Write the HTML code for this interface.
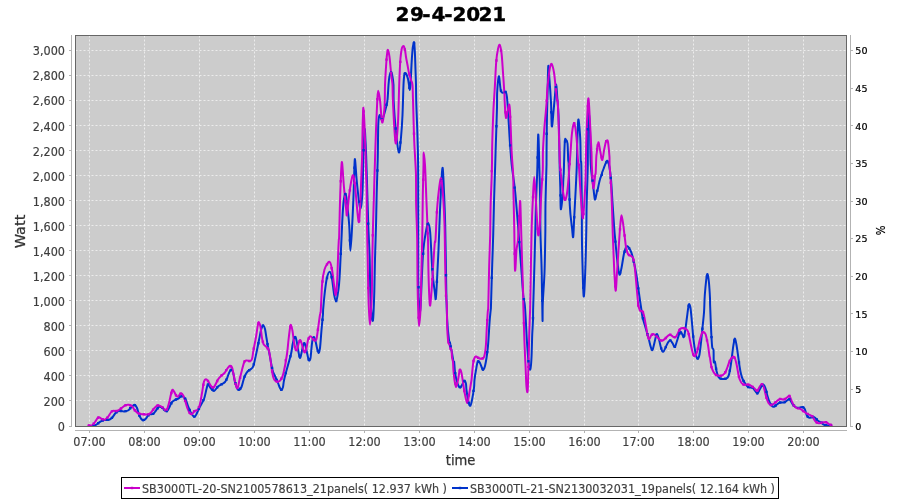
<!DOCTYPE html>
<html lang="en"><head><meta charset="utf-8"><title>29-4-2021</title>
<style>
html,body{margin:0;padding:0;background:#fff;overflow:hidden}
svg{display:block}
text{font-family:"DejaVu Sans","Liberation Sans",sans-serif}
.tl{font-family:"DejaVu Sans Condensed","DejaVu Sans","Liberation Sans",sans-serif;font-size:12.5px;fill:#3c3c3c;stroke:#3c3c3c;stroke-width:.15px}
.tr{font-family:"DejaVu Sans","Liberation Sans",sans-serif;font-size:9.3px;fill:#000;stroke:#000;stroke-width:.2px}
.pc{font-family:"DejaVu Sans Condensed","DejaVu Sans","Liberation Sans",sans-serif;font-size:12px;fill:#000;stroke:#000;stroke-width:.2px}
.al{font-family:"DejaVu Sans Condensed","DejaVu Sans","Liberation Sans",sans-serif;font-size:14px;fill:#333;stroke:#333;stroke-width:.25px}
.lg{font-family:"DejaVu Sans Condensed","DejaVu Sans","Liberation Sans",sans-serif;font-size:12.5px;fill:#404040;stroke:#404040;stroke-width:.15px}
.ti{font-weight:bold;font-size:20px;fill:#000;stroke:#000;stroke-width:.4px}
.g{stroke:#fff;stroke-opacity:.62;stroke-width:1;stroke-dasharray:2 2;fill:none}
.ax{stroke:#b3b3b3;stroke-width:1;fill:none;shape-rendering:crispEdges}
</style></head><body>
<svg width="900" height="500" viewBox="0 0 900 500">
<rect x="0" y="0" width="900" height="500" fill="#fff"/>
<text class="ti" x="395.4 409.9 422.2 431.5 444.2 452.4 466.3 478.4 492.2" y="21">29-4-2021</text>
<rect x="75" y="35" width="772" height="392" fill="#cccccc"/>
<line class="g" x1="89.5" y1="35.5" x2="89.5" y2="426"/>
<line class="g" x1="144.5" y1="35.5" x2="144.5" y2="426"/>
<line class="g" x1="199.5" y1="35.5" x2="199.5" y2="426"/>
<line class="g" x1="254.5" y1="35.5" x2="254.5" y2="426"/>
<line class="g" x1="309.5" y1="35.5" x2="309.5" y2="426"/>
<line class="g" x1="364.5" y1="35.5" x2="364.5" y2="426"/>
<line class="g" x1="419.5" y1="35.5" x2="419.5" y2="426"/>
<line class="g" x1="474.5" y1="35.5" x2="474.5" y2="426"/>
<line class="g" x1="529.5" y1="35.5" x2="529.5" y2="426"/>
<line class="g" x1="584.5" y1="35.5" x2="584.5" y2="426"/>
<line class="g" x1="638.5" y1="35.5" x2="638.5" y2="426"/>
<line class="g" x1="693.5" y1="35.5" x2="693.5" y2="426"/>
<line class="g" x1="748.5" y1="35.5" x2="748.5" y2="426"/>
<line class="g" x1="803.5" y1="35.5" x2="803.5" y2="426"/>
<line class="g" x1="75.5" y1="400.5" x2="846" y2="400.5"/>
<line class="g" x1="75.5" y1="375.5" x2="846" y2="375.5"/>
<line class="g" x1="75.5" y1="350.5" x2="846" y2="350.5"/>
<line class="g" x1="75.5" y1="325.5" x2="846" y2="325.5"/>
<line class="g" x1="75.5" y1="300.5" x2="846" y2="300.5"/>
<line class="g" x1="75.5" y1="275.5" x2="846" y2="275.5"/>
<line class="g" x1="75.5" y1="250.5" x2="846" y2="250.5"/>
<line class="g" x1="75.5" y1="225.5" x2="846" y2="225.5"/>
<line class="g" x1="75.5" y1="200.5" x2="846" y2="200.5"/>
<line class="g" x1="75.5" y1="175.5" x2="846" y2="175.5"/>
<line class="g" x1="75.5" y1="150.5" x2="846" y2="150.5"/>
<line class="g" x1="75.5" y1="125.5" x2="846" y2="125.5"/>
<line class="g" x1="75.5" y1="100.5" x2="846" y2="100.5"/>
<line class="g" x1="75.5" y1="75.5" x2="846" y2="75.5"/>
<line class="g" x1="75.5" y1="50.5" x2="846" y2="50.5"/>
<clipPath id="pc"><rect x="75" y="35" width="772" height="392"/></clipPath>
<g clip-path="url(#pc)" fill="none" stroke-width="2" stroke-linejoin="round" stroke-linecap="round">
<path stroke="#0033cc" d="M93.0,425.5C93.5,425.4 94.8,425.4 96.0,424.8C97.2,424.2 98.7,422.6 100.0,421.8C101.3,421.0 102.5,420.3 104.0,420.0C105.5,419.7 107.7,420.2 109.0,419.8C110.3,419.4 110.8,419.0 112.0,417.8C113.2,416.6 114.7,413.7 116.0,412.5C117.3,411.3 118.7,411.0 120.0,410.8C121.3,410.6 122.7,411.6 124.0,411.5C125.3,411.4 126.8,411.2 128.0,410.5C129.2,409.8 129.9,408.4 131.0,407.5C132.1,406.6 133.5,404.7 134.5,404.8C135.5,404.9 136.2,406.1 137.0,408.0C137.8,409.9 138.5,413.9 139.5,416.0C140.5,418.1 141.9,420.1 143.0,420.5C144.1,420.9 145.0,419.5 146.0,418.5C147.0,417.5 147.8,415.2 149.0,414.5C150.2,413.8 151.8,414.7 153.0,414.0C154.2,413.3 155.0,411.7 156.0,410.5C157.0,409.3 157.8,407.2 159.0,406.8C160.2,406.4 162.2,407.5 163.0,408.0C163.8,408.5 163.3,409.5 164.0,410.0C164.7,410.5 166.1,411.7 167.0,411.2C167.9,410.7 168.7,408.5 169.5,407.0C170.3,405.5 170.9,403.2 172.0,402.0C173.1,400.8 174.9,400.1 176.0,399.5C177.1,398.9 177.7,399.1 178.5,398.5C179.3,397.9 180.2,396.4 181.0,396.2C181.8,395.9 182.8,396.5 183.5,397.0C184.2,397.5 184.8,397.5 185.5,399.0C186.2,400.5 187.1,403.7 188.0,406.0C188.9,408.3 189.9,411.2 191.0,413.0C192.1,414.8 193.5,416.8 194.5,416.8C195.5,416.8 196.2,414.6 197.0,413.0C197.8,411.4 198.3,409.8 199.5,407.5C200.7,405.2 202.8,402.1 204.0,399.0C205.2,395.9 205.8,391.4 206.5,389.0C207.2,386.6 207.2,384.6 208.0,384.5C208.8,384.4 210.0,387.4 211.0,388.5C212.0,389.6 212.8,391.3 214.0,391.0C215.2,390.7 216.7,387.7 218.0,386.5C219.3,385.3 220.8,384.8 222.0,384.0C223.2,383.2 224.2,382.9 225.0,382.0C225.8,381.1 226.3,380.0 227.0,378.5C227.7,377.0 228.3,374.4 229.0,373.0C229.7,371.6 230.3,370.0 231.0,369.8C231.7,369.6 232.3,370.0 233.0,372.0C233.7,374.0 234.2,379.2 235.0,382.0C235.8,384.8 236.8,387.7 237.5,389.0C238.2,390.3 238.3,390.3 239.0,390.0C239.7,389.7 240.8,388.7 241.5,387.0C242.2,385.3 242.9,381.9 243.5,380.0C244.1,378.1 244.2,377.0 245.0,375.5C245.8,374.0 247.0,372.1 248.0,371.0C249.0,369.9 250.1,369.9 251.0,369.0C251.9,368.1 252.5,368.7 253.5,365.5C254.5,362.3 256.1,354.2 257.0,350.0C257.9,345.8 258.3,343.3 259.0,340.0C259.7,336.7 260.4,332.3 261.0,330.0C261.6,327.7 262.1,326.8 262.5,326.0C262.9,325.2 263.1,325.0 263.5,325.5C263.9,326.0 264.5,326.9 265.0,329.0C265.5,331.1 266.0,335.0 266.5,338.0C267.0,341.0 267.5,344.3 268.0,347.0C268.5,349.7 268.8,350.2 269.5,354.0C270.2,357.8 271.6,366.3 272.5,370.0C273.4,373.7 274.1,373.8 275.0,376.0C275.9,378.2 277.2,381.0 278.0,383.0C278.8,385.0 279.4,386.8 280.0,388.0C280.6,389.2 281.0,390.2 281.5,390.0C282.0,389.8 282.5,389.0 283.0,387.0C283.5,385.0 283.2,383.5 284.5,378.0C285.8,372.5 289.7,359.5 291.0,354.0C292.3,348.5 292.0,347.6 292.5,345.0C293.0,342.4 293.5,339.8 294.0,338.5C294.5,337.2 295.0,336.2 295.5,337.0C296.0,337.8 296.5,340.5 297.0,343.0C297.5,345.5 298.0,349.5 298.5,352.0C299.0,354.5 299.5,357.8 300.0,358.0C300.5,358.2 301.0,355.0 301.5,353.0C302.0,351.0 302.5,347.7 303.0,346.0C303.5,344.3 304.0,342.7 304.5,343.0C305.0,343.3 305.5,346.0 306.0,348.0C306.5,350.0 307.0,352.9 307.5,355.0C308.0,357.1 308.5,360.0 309.0,360.5C309.5,361.0 310.1,360.1 310.5,358.0C310.9,355.9 311.2,351.0 311.5,348.0C311.8,345.0 312.1,341.8 312.5,340.0C312.9,338.2 313.5,336.8 314.0,337.0C314.5,337.2 315.0,339.2 315.5,341.0C316.0,342.8 316.5,346.0 317.0,348.0C317.5,350.0 318.0,353.0 318.5,353.0C319.0,353.0 319.5,351.8 320.0,348.0C320.5,344.2 321.0,335.7 321.5,330.0C322.0,324.3 322.7,317.3 323.0,314.0C323.1,310.7 323.0,313.2 323.1,310.0C323.4,306.8 323.9,300.2 324.5,295.0C325.1,289.8 325.9,282.4 326.8,278.5C327.7,274.6 328.9,271.8 329.8,271.8C330.7,271.8 331.3,274.6 332.0,278.5C332.7,282.4 333.5,291.2 334.2,295.0C334.9,298.8 335.6,301.0 336.2,301.0C336.8,301.0 337.1,297.7 337.6,295.0C338.1,292.3 338.6,289.2 339.0,285.0C339.4,280.8 339.8,274.3 340.0,270.0C340.2,265.7 340.3,263.2 340.5,259.0C340.7,254.8 341.0,249.5 341.2,245.0C341.4,240.5 341.6,237.0 341.8,232.0C342.0,227.0 342.3,220.2 342.6,215.0C342.9,209.8 343.2,204.6 343.7,201.0C344.2,197.4 344.9,193.2 345.5,193.5C346.1,193.8 346.4,197.2 347.0,202.5C347.6,207.8 348.6,216.9 349.2,225.0C349.8,233.1 349.9,250.8 350.4,250.8C350.9,250.8 351.6,235.6 352.2,225.0C352.8,214.4 353.4,198.5 353.8,187.5C354.2,176.5 354.4,160.8 354.8,159.2C355.2,157.6 356.0,172.4 356.5,178.0C357.0,183.6 357.5,188.5 358.0,193.0C358.5,197.5 359.1,202.4 359.5,205.0C359.9,207.6 360.1,208.7 360.4,208.5C360.7,208.3 361.2,206.6 361.5,204.0C361.8,201.4 362.1,197.8 362.4,193.0C362.6,188.2 362.9,180.5 363.0,175.0C363.1,169.5 363.2,164.8 363.3,160.0C363.4,155.2 363.6,151.2 363.8,146.0C364.0,140.8 364.4,129.5 364.7,129.0C365.0,128.5 365.3,137.8 365.6,143.0C365.9,148.2 366.0,151.7 366.3,160.0C366.6,168.3 367.0,182.0 367.3,193.0C367.6,204.0 367.9,215.0 368.3,226.0C368.7,237.0 369.4,248.0 369.7,259.0C370.0,270.0 370.0,283.2 370.3,292.0C370.6,300.8 370.9,307.3 371.4,312.0C371.8,316.7 372.5,323.3 373.0,320.0C373.5,316.7 374.0,302.2 374.3,292.0C374.6,281.8 374.7,270.0 375.0,259.0C375.3,248.0 375.7,237.0 376.0,226.0C376.3,215.0 376.4,204.0 376.7,193.0C377.0,182.0 377.4,171.5 377.7,160.0C378.0,148.5 378.0,131.5 378.3,124.0C378.6,116.5 379.0,115.8 379.6,115.0C380.2,114.2 381.1,120.8 382.2,119.5C383.3,118.2 385.1,110.8 386.0,107.5C386.9,104.2 387.1,103.8 387.5,100.0C387.9,96.2 388.2,89.0 388.5,85.0C388.8,81.0 389.1,78.1 389.5,76.0C389.9,73.9 390.4,72.4 390.8,72.2C391.2,72.0 391.8,72.9 392.2,75.0C392.6,77.1 393.3,80.8 393.5,85.0C393.6,89.2 393.5,92.5 393.6,100.0C394.0,107.5 394.9,121.2 395.8,130.0C396.7,138.8 397.9,151.2 398.8,152.5C399.7,153.8 400.4,143.8 401.0,137.5C401.6,131.2 402.1,123.8 402.5,115.0C402.9,106.2 403.2,91.5 403.5,85.0C403.8,78.5 403.9,78.0 404.2,76.0C404.4,74.0 404.6,73.2 405.0,73.0C405.4,72.8 406.0,73.5 406.5,74.5C407.0,75.5 407.6,77.2 408.0,79.0C408.4,80.8 408.7,83.2 409.0,85.0C409.3,86.8 409.6,90.0 409.8,90.0C410.1,90.0 410.2,89.2 410.5,85.0C410.8,80.8 411.2,70.8 411.5,65.0C411.8,59.2 412.2,53.5 412.5,50.0C412.8,46.5 413.2,45.2 413.5,44.0C413.8,42.8 413.9,41.0 414.2,42.8C414.4,44.6 414.8,50.5 415.0,55.0C415.2,59.5 415.3,65.0 415.5,70.0C415.7,75.0 415.9,80.0 416.0,85.0C416.1,90.0 416.0,91.2 416.2,100.0C416.4,108.8 417.2,125.0 417.5,137.5C417.8,150.0 418.1,151.5 418.2,175.0C418.3,198.5 418.2,256.0 418.3,278.5C418.5,301.0 419.0,304.6 419.3,310.0C419.6,315.4 419.9,312.2 420.1,311.0C420.4,309.8 420.4,311.4 420.8,302.5C421.2,293.6 422.2,267.5 422.8,257.5C423.4,247.5 423.7,246.7 424.2,242.5C424.7,238.3 425.2,235.8 425.8,232.5C426.4,229.2 427.3,222.8 428.0,222.8C428.7,222.8 429.4,224.2 430.2,232.5C430.9,240.8 431.7,262.6 432.5,272.5C433.3,282.4 434.2,287.6 434.8,292.0C435.4,296.4 435.4,300.8 435.8,298.8C436.2,296.8 436.6,288.1 437.0,280.0C437.4,271.9 438.0,261.7 438.5,250.0C439.0,238.3 439.5,221.7 440.0,210.0C440.5,198.3 441.1,187.0 441.5,180.0C441.9,173.0 442.3,166.8 442.7,168.0C443.1,169.2 443.4,178.0 443.8,187.5C444.2,197.0 444.8,207.8 445.2,225.0C445.6,242.2 446.0,274.7 446.3,290.5C446.6,306.3 446.8,311.8 447.2,320.0C447.6,328.2 448.5,336.2 449.0,340.0C449.5,343.8 449.6,340.8 450.0,342.5C450.4,344.2 450.9,348.8 451.2,350.0C451.4,351.2 451.2,348.0 451.5,350.0C451.9,352.0 453.1,360.0 453.5,362.0C453.9,364.0 453.9,360.3 454.2,362.0C454.4,363.7 454.6,369.0 455.0,372.0C455.4,375.0 455.9,377.7 456.5,380.0C457.1,382.3 457.8,384.8 458.5,386.0C459.2,387.2 459.8,387.8 460.5,387.5C461.2,387.2 461.8,385.1 462.5,384.0C463.2,382.9 463.9,380.8 464.5,380.8C465.1,380.8 465.7,382.5 466.0,384.0C466.3,385.5 466.1,387.0 466.5,390.0C466.9,393.0 467.9,399.4 468.5,402.0C469.1,404.6 469.7,406.1 470.3,405.8C470.9,405.5 471.4,403.0 472.0,400.0C472.6,397.0 473.6,391.3 474.0,388.0C474.4,384.7 474.2,383.0 474.5,380.0C474.8,377.0 475.4,373.1 476.0,370.0C476.6,366.9 477.1,362.7 477.8,361.5C478.5,360.3 479.3,361.9 480.0,363.0C480.7,364.1 481.4,366.8 482.0,368.0C482.6,369.2 482.8,370.3 483.3,370.0C483.8,369.7 484.5,368.0 485.0,366.0C485.5,364.0 486.0,361.3 486.5,358.0C487.0,354.7 487.5,351.8 488.0,346.0C488.5,340.2 489.1,329.0 489.5,323.0C489.9,317.0 490.4,313.0 490.7,310.0C490.9,307.0 490.8,312.5 491.0,305.0C491.2,297.5 491.8,276.7 492.2,265.0C492.6,253.3 492.9,245.4 493.2,235.0C493.5,224.6 493.7,214.2 494.0,202.5C494.3,190.8 494.9,174.6 495.2,165.0C495.5,155.4 495.5,154.6 495.8,145.0C496.1,135.4 496.8,116.1 497.0,107.5C497.1,98.9 497.0,98.7 497.1,93.5C497.4,88.3 498.2,76.7 498.8,76.2C499.4,75.7 500.1,87.7 500.8,90.5C501.5,93.3 502.2,92.5 503.0,92.8C503.8,93.0 505.0,90.9 505.7,92.0C506.4,93.1 506.7,94.4 507.2,99.5C507.7,104.6 508.2,114.7 508.7,122.5C509.2,130.3 509.6,139.0 510.2,146.5C510.8,154.0 511.2,160.7 512.0,167.5C512.8,174.3 514.0,180.9 514.7,187.5C515.5,194.1 516.0,200.8 516.5,207.0C517.0,213.2 517.2,215.3 518.0,225.0C518.8,234.7 520.1,253.3 521.0,265.0C521.9,276.7 522.6,288.3 523.2,295.0C523.8,301.7 524.4,300.8 524.8,305.0C525.2,309.2 525.4,313.8 525.8,320.0C526.2,326.2 526.5,335.5 527.0,342.5C527.5,349.5 528.0,357.5 528.5,362.0C529.0,366.5 529.8,370.2 530.3,369.5C530.8,368.8 531.2,363.2 531.5,357.5C531.8,351.8 532.0,341.2 532.2,335.0C532.5,328.8 532.9,324.2 533.0,320.0C533.1,315.8 533.0,317.9 533.1,310.0C533.3,302.1 533.9,285.0 534.2,272.5C534.6,260.0 534.9,246.7 535.2,235.0C535.5,223.3 535.7,212.9 536.0,202.5C536.3,192.1 536.8,183.8 537.2,172.5C537.6,161.2 537.9,135.8 538.2,134.5C538.6,133.2 539.0,153.7 539.3,165.0C539.6,176.3 540.0,190.8 540.2,202.5C540.4,214.2 540.2,223.3 540.5,235.0C540.8,246.7 541.4,258.3 541.7,272.5C542.0,286.7 542.3,315.0 542.5,320.0C542.7,325.0 542.5,310.4 542.8,302.5C543.1,294.6 544.1,283.8 544.5,272.5C544.9,261.2 545.1,246.7 545.3,235.0C545.5,223.3 545.3,214.2 545.5,202.5C545.7,190.8 546.3,174.6 546.5,165.0C546.6,155.4 546.5,153.3 546.6,145.0C546.7,136.7 546.8,124.6 547.0,115.0C547.2,105.4 547.5,95.7 547.7,87.5C547.9,79.3 548.0,67.0 548.3,65.8C548.6,64.5 549.0,73.9 549.5,80.0C550.0,86.1 550.6,94.8 551.0,102.5C551.4,110.2 551.4,124.1 551.8,126.2C552.2,128.3 552.7,120.2 553.2,115.0C553.7,109.8 554.5,100.1 555.0,95.0C555.5,89.9 555.8,84.0 556.2,84.5C556.6,85.0 556.9,92.9 557.3,98.0C557.7,103.1 558.2,108.4 558.5,115.0C558.8,121.6 559.0,128.8 559.2,137.5C559.4,146.2 559.5,159.2 559.7,167.5C559.9,175.8 560.1,180.6 560.3,187.5C560.5,194.4 560.4,207.9 560.8,209.2C561.2,210.4 562.3,199.9 562.7,195.0C563.1,190.1 563.1,183.8 563.3,180.0C563.5,176.2 563.5,178.3 563.8,172.0C564.0,165.7 564.4,147.4 564.8,142.0C565.2,136.6 565.5,139.6 566.0,139.8C566.5,140.1 567.1,140.1 567.5,143.5C567.9,146.9 568.0,156.4 568.2,160.0C568.4,163.6 568.4,157.4 568.7,165.0C569.0,172.6 569.2,195.0 569.8,205.5C570.3,216.0 571.4,222.8 572.0,228.0C572.6,233.2 572.8,238.8 573.2,237.0C573.6,235.2 573.8,225.8 574.2,217.5C574.6,209.2 575.4,196.2 575.8,187.5C576.2,178.8 576.6,172.1 576.8,165.0C577.0,157.9 577.0,152.6 577.2,145.0C577.5,137.4 577.8,120.8 578.3,119.5C578.8,118.2 579.8,130.8 580.2,137.5C580.6,144.2 580.5,155.4 580.7,160.0C580.9,164.6 581.1,157.9 581.3,165.0C581.5,172.1 581.7,190.8 581.8,202.5C581.9,214.2 581.8,224.6 581.9,235.0C582.0,245.4 582.2,254.8 582.5,265.0C582.8,275.2 583.2,295.2 583.7,296.5C584.2,297.8 584.8,282.8 585.2,272.5C585.6,262.2 586.0,246.7 586.2,235.0C586.5,223.3 586.4,214.2 586.7,202.5C587.0,190.8 587.6,177.1 587.8,165.0C587.9,152.9 587.8,138.8 587.9,130.0C588.1,121.2 588.6,112.0 589.0,112.0C589.4,112.0 589.7,121.2 590.0,130.0C590.3,138.8 590.3,156.3 590.8,165.0C591.2,173.7 592.1,177.2 592.7,182.2C593.3,187.2 593.8,192.1 594.2,195.0C594.6,197.9 594.7,200.2 595.2,199.5C595.7,198.8 596.8,192.0 597.2,190.5C597.5,189.0 597.2,192.2 597.5,190.5C597.9,188.8 599.0,182.8 599.8,180.0C600.5,177.2 601.6,175.2 602.0,174.0C602.1,172.8 602.0,173.3 602.1,172.5C602.4,171.7 602.9,170.6 603.5,169.0C604.1,167.4 605.1,164.4 605.8,163.0C606.5,161.6 606.9,160.3 607.5,160.8C608.1,161.3 608.6,162.9 609.2,166.0C609.8,169.1 610.5,173.1 611.0,179.2C611.5,185.3 612.0,194.9 612.5,202.5C613.0,210.1 613.6,219.6 614.0,225.0C614.4,230.4 614.4,230.8 614.8,235.0C615.2,239.2 615.7,245.0 616.2,250.0C616.7,255.0 617.2,260.9 617.8,265.0C618.3,269.1 618.9,274.3 619.5,274.8C620.1,275.3 620.8,271.4 621.5,268.0C622.2,264.6 623.1,257.9 623.8,254.5C624.5,251.1 625.1,249.2 625.7,247.8C626.3,246.4 626.8,246.0 627.5,246.2C628.2,246.4 629.0,247.8 629.8,249.2C630.5,250.6 631.3,252.1 632.0,254.5C632.7,256.9 633.5,260.0 634.2,263.5C635.0,267.0 635.7,270.8 636.5,275.5C637.3,280.2 638.0,286.8 638.8,292.0C639.5,297.2 640.4,302.8 641.0,307.0C641.6,311.2 641.8,313.6 642.5,317.0C643.2,320.4 644.5,324.0 645.5,327.5C646.5,331.0 647.6,334.8 648.5,338.0C649.4,341.2 650.1,345.0 650.8,347.0C651.5,349.0 651.9,350.8 652.5,350.0C653.1,349.2 653.8,345.1 654.5,342.5C655.2,339.9 656.0,334.7 656.8,334.2C657.5,333.7 658.3,337.1 659.0,339.5C659.7,341.9 660.5,346.4 661.2,348.5C661.9,350.6 662.4,352.1 663.2,351.8C664.0,351.6 665.0,348.6 665.8,347.0C666.6,345.4 667.3,343.6 668.0,342.5C668.7,341.4 669.5,340.1 670.2,340.2C671.0,340.3 671.7,342.1 672.5,343.2C673.3,344.3 674.0,347.4 674.8,347.0C675.5,346.6 676.1,343.5 677.0,341.0C677.9,338.5 679.1,333.1 680.0,332.0C680.9,330.9 681.6,333.3 682.2,334.2C682.8,335.1 683.3,337.8 683.8,337.2C684.3,336.6 684.7,333.6 685.2,330.5C685.7,327.4 686.3,322.2 686.8,318.5C687.3,314.8 687.8,310.4 688.2,308.0C688.6,305.6 688.6,304.0 689.0,304.0C689.4,304.0 690.0,304.8 690.5,308.0C691.0,311.2 691.5,317.8 692.0,323.0C692.5,328.2 692.9,334.2 693.5,339.5C694.1,344.8 695.1,351.3 695.8,354.5C696.5,357.7 697.1,358.7 697.7,358.7C698.3,358.7 699.0,357.2 699.5,354.5C700.0,351.8 700.5,347.0 701.0,342.5C701.5,338.0 702.0,332.5 702.5,327.5C703.0,322.5 703.6,317.9 704.0,312.5C704.4,307.1 704.4,300.4 704.8,295.0C705.2,289.6 705.8,283.5 706.2,280.0C706.7,276.5 707.0,273.5 707.5,274.0C708.0,274.5 708.6,279.0 709.0,283.0C709.4,287.0 709.8,294.3 710.0,298.0C710.1,301.7 710.0,299.3 710.1,305.0C710.3,310.7 710.9,325.0 711.2,332.0C711.6,339.0 711.8,344.0 712.2,347.0C712.6,350.0 713.2,347.5 713.5,350.0C713.8,352.5 713.5,360.0 713.8,362.0C714.0,364.0 714.5,360.5 715.0,362.0C715.5,363.5 715.9,368.5 716.5,371.0C717.1,373.5 717.8,375.7 718.5,377.0C719.2,378.3 720.1,378.5 721.0,378.8C721.9,379.1 723.1,379.1 724.0,379.0C724.9,378.9 725.8,379.0 726.5,378.5C727.2,378.0 727.9,377.4 728.5,376.0C729.1,374.6 729.5,372.7 730.0,370.0C730.5,367.3 731.0,363.7 731.5,360.0C732.0,356.3 732.6,351.0 733.0,348.0C733.4,345.0 733.7,343.6 734.0,342.0C734.3,340.4 734.6,338.0 735.0,338.5C735.4,339.0 736.0,342.2 736.5,345.0C737.0,347.8 737.5,351.5 738.0,355.0C738.5,358.5 739.0,362.8 739.5,366.0C740.0,369.2 740.4,371.7 741.0,374.0C741.6,376.3 742.2,378.3 743.0,380.0C743.8,381.7 744.7,382.8 745.5,384.0C746.3,385.2 747.2,386.4 748.0,387.0C748.8,387.6 749.7,387.3 750.5,387.5C751.3,387.7 752.2,387.3 753.0,388.0C753.8,388.7 754.8,390.6 755.5,391.5C756.2,392.4 756.8,393.9 757.5,393.5C758.2,393.1 759.2,390.5 760.0,389.0C760.8,387.5 761.8,385.0 762.5,384.5C763.2,384.0 763.9,385.1 764.5,386.0C765.1,386.9 765.5,388.3 766.0,390.0C766.5,391.7 766.9,394.0 767.5,396.0C768.1,398.0 768.8,400.4 769.5,402.0C770.2,403.6 770.8,404.7 771.5,405.5C772.2,406.3 772.9,407.0 773.8,406.8C774.7,406.6 776.0,405.2 777.0,404.5C778.0,403.8 778.8,402.8 780.0,402.5C781.2,402.2 782.8,402.8 784.0,402.5C785.2,402.2 786.1,401.1 787.0,400.5C787.9,399.9 789.0,399.1 789.5,399.0C790.0,398.9 789.5,398.8 790.0,399.7C790.5,400.6 791.8,403.1 792.7,404.3C793.6,405.5 794.4,406.4 795.3,407.0C796.2,407.6 797.1,407.9 798.0,408.0C798.9,408.1 799.9,407.5 800.7,407.3C801.5,407.1 802.0,406.7 802.7,407.0C803.4,407.3 804.2,408.0 804.7,409.0C805.2,410.0 805.6,411.8 806.0,413.0C806.4,414.2 806.8,415.5 807.3,416.3C807.8,417.1 808.6,417.5 809.3,417.7C810.0,417.9 810.6,417.5 811.3,417.3C812.0,417.1 812.6,416.6 813.3,416.7C814.0,416.8 814.5,417.3 815.3,418.0C816.1,418.7 817.1,420.0 818.0,420.7C818.9,421.4 819.8,421.7 820.7,422.3C821.6,422.9 822.4,423.8 823.3,424.3C824.2,424.8 824.9,425.1 826.0,425.3C827.1,425.5 829.3,425.5 830.0,425.5"/>
<path stroke="#cc00cc" d="M88.5,425.5C89.2,425.4 91.4,425.8 92.5,425.2C93.6,424.6 94.0,423.3 95.0,422.0C96.0,420.7 97.4,417.7 98.5,417.2C99.6,416.7 100.5,418.4 101.5,418.8C102.5,419.2 103.5,420.0 104.5,419.8C105.5,419.6 106.2,418.9 107.5,417.5C108.8,416.1 110.4,412.3 112.0,411.2C113.6,410.1 115.5,411.4 117.0,411.0C118.5,410.6 119.6,409.5 121.0,408.5C122.4,407.5 124.2,405.8 125.5,405.2C126.8,404.6 127.9,404.6 129.0,404.8C130.1,405.0 131.0,405.2 132.0,406.2C133.0,407.1 133.8,409.2 135.0,410.5C136.2,411.8 137.5,413.2 139.0,413.8C140.5,414.4 142.5,414.1 144.0,414.2C145.5,414.3 146.8,414.8 148.0,414.5C149.2,414.2 150.0,413.5 151.0,412.5C152.0,411.5 152.8,409.7 154.0,408.5C155.2,407.3 156.7,405.4 158.0,405.2C159.3,404.9 160.9,406.3 162.0,407.0C163.1,407.7 163.8,408.9 164.5,409.5C165.2,410.1 165.8,411.6 166.5,410.5C167.2,409.4 168.1,406.3 169.0,403.0C169.9,399.7 171.2,392.4 172.0,390.5C172.8,388.6 173.2,390.6 174.0,391.5C174.8,392.4 175.8,395.4 176.5,396.2C177.2,397.0 177.8,396.7 178.5,396.2C179.2,395.7 180.2,393.2 181.0,393.2C181.8,393.2 182.8,394.5 183.5,396.0C184.2,397.5 184.8,399.9 185.5,402.0C186.2,404.1 186.8,406.6 187.5,408.5C188.2,410.4 189.2,412.6 190.0,413.5C190.8,414.4 191.2,414.4 192.0,414.0C192.8,413.6 193.5,411.8 194.5,411.0C195.5,410.2 197.1,410.7 198.0,409.5C198.9,408.3 199.3,406.8 200.0,404.0C200.7,401.2 201.3,396.8 202.0,393.0C202.7,389.2 203.3,383.8 204.0,381.5C204.7,379.2 205.3,379.3 206.0,379.2C206.7,379.1 207.2,379.9 208.0,381.0C208.8,382.1 210.1,384.9 211.0,386.0C211.9,387.1 212.3,388.9 213.5,387.8C214.7,386.7 216.7,381.6 218.0,379.5C219.3,377.4 220.4,376.6 221.5,375.5C222.6,374.4 223.6,374.1 224.5,373.0C225.4,371.9 226.1,370.2 227.0,369.0C227.9,367.8 229.2,366.1 230.0,365.8C230.8,365.6 231.4,366.1 232.0,367.5C232.6,368.9 232.9,371.2 233.5,374.0C234.1,376.8 234.8,381.6 235.5,384.0C236.2,386.4 236.8,388.9 237.5,388.2C238.2,387.5 238.8,383.0 239.5,380.0C240.2,377.0 241.2,373.1 242.0,370.0C242.8,366.9 243.7,363.1 244.5,361.5C245.3,359.9 246.1,360.6 247.0,360.5C247.9,360.4 249.2,361.4 250.0,361.2C250.8,360.9 251.4,360.9 252.0,359.0C252.6,357.1 252.8,353.7 253.5,350.0C254.2,346.3 255.2,341.3 256.0,337.0C256.8,332.7 257.5,326.4 258.0,324.0C258.5,321.6 258.6,322.0 259.0,322.5C259.4,323.0 260.0,324.4 260.5,327.0C261.0,329.6 261.5,335.2 262.0,338.0C262.5,340.8 262.8,342.6 263.5,344.0C264.2,345.4 265.2,345.6 266.0,346.5C266.8,347.4 267.8,347.9 268.5,349.5C269.2,351.1 269.4,352.4 270.0,356.0C270.6,359.6 271.4,367.3 272.0,371.0C272.6,374.7 272.9,376.3 273.5,378.0C274.1,379.7 274.8,380.4 275.5,381.0C276.2,381.6 277.1,382.1 278.0,381.8C278.9,381.6 280.1,381.0 281.0,379.5C281.9,378.0 282.5,377.2 283.5,373.0C284.5,368.8 286.2,359.5 287.0,354.0C287.8,348.5 288.0,344.3 288.5,340.0C289.0,335.7 289.6,330.5 290.0,328.0C290.4,325.5 290.6,324.5 291.0,325.0C291.4,325.5 292.0,328.2 292.5,331.0C293.0,333.8 293.5,338.9 294.0,342.0C294.5,345.1 295.0,348.2 295.5,349.5C296.0,350.8 296.5,350.9 297.0,350.0C297.5,349.1 298.0,345.7 298.5,344.0C299.0,342.3 299.5,340.2 300.0,340.0C300.5,339.8 300.9,341.3 301.5,343.0C302.1,344.7 302.9,348.4 303.5,350.0C304.1,351.6 304.5,352.8 305.0,352.5C305.5,352.2 306.0,350.1 306.5,348.0C307.0,345.9 307.5,341.9 308.0,340.0C308.5,338.1 309.0,337.4 309.5,336.8C310.0,336.2 310.4,336.1 311.0,336.5C311.6,336.9 312.3,338.2 313.0,339.0C313.7,339.8 314.4,341.0 315.0,341.0C315.6,341.0 316.0,341.0 316.5,339.0C317.0,337.0 317.5,332.5 318.0,329.0C318.5,325.5 319.1,320.7 319.5,318.0C319.9,315.3 320.1,314.3 320.3,313.0C320.5,311.7 320.5,315.0 320.8,310.0C321.1,305.0 321.6,289.8 322.2,283.0C322.8,276.2 323.6,272.8 324.5,269.5C325.4,266.2 326.6,264.8 327.5,263.5C328.4,262.2 329.1,261.0 329.8,262.0C330.6,263.0 331.3,265.5 332.0,269.5C332.7,273.5 333.6,281.8 334.2,286.0C334.8,290.2 335.3,296.0 335.8,295.0C336.3,294.0 336.8,287.5 337.2,280.0C337.6,272.5 338.0,256.7 338.3,250.0C338.6,243.3 338.7,242.5 338.8,240.0C338.9,237.5 339.0,242.5 339.2,235.0C339.4,227.5 339.8,206.2 340.2,195.0C340.6,183.8 341.0,173.2 341.3,168.0C341.6,162.8 341.8,160.2 342.2,163.5C342.6,166.8 343.3,179.8 344.0,187.5C344.7,195.2 345.7,205.5 346.2,210.0C346.7,214.5 346.5,217.0 347.0,214.5C347.5,212.0 348.4,200.8 349.2,195.0C349.9,189.2 350.8,183.2 351.5,180.0C352.2,176.8 352.7,174.2 353.3,175.5C353.9,176.8 354.5,181.2 355.2,187.5C355.9,193.8 356.9,207.2 357.5,213.0C358.1,218.8 358.6,223.3 359.0,222.0C359.4,220.7 359.9,209.8 360.2,205.0C360.5,200.2 360.5,198.0 360.7,193.0C360.9,188.0 361.2,180.5 361.4,175.0C361.6,169.5 361.8,165.8 362.0,160.0C362.2,154.2 362.3,146.7 362.4,140.0C362.5,133.3 362.6,125.3 362.8,120.0C363.0,114.7 363.1,109.0 363.3,108.0C363.5,107.0 363.7,111.2 363.9,114.0C364.1,116.8 364.3,120.3 364.5,125.0C364.7,129.7 364.9,136.2 365.1,142.0C365.3,147.8 365.5,154.2 365.7,160.0C365.9,165.8 366.0,171.5 366.2,177.0C366.4,182.5 366.6,184.8 366.7,193.0C366.8,201.2 366.8,215.0 367.0,226.0C367.2,237.0 367.5,248.0 367.7,259.0C367.9,270.0 368.1,283.0 368.3,292.0C368.5,301.0 368.8,307.6 369.1,313.0C369.4,318.4 369.7,324.7 370.0,324.7C370.3,324.7 370.6,318.4 370.9,313.0C371.2,307.6 371.7,301.0 371.9,292.0C372.1,283.0 372.1,270.0 372.3,259.0C372.5,248.0 372.7,237.0 373.0,226.0C373.3,215.0 373.7,204.0 374.0,193.0C374.3,182.0 374.7,170.5 375.0,160.0C375.3,149.5 375.7,137.8 376.0,130.0C376.3,122.2 376.5,118.0 376.7,113.0C376.9,108.0 377.1,103.7 377.3,100.0C377.6,96.3 377.8,90.8 378.2,90.8C378.6,90.8 379.3,94.7 380.0,100.0C380.7,105.3 381.4,121.2 382.2,122.5C382.9,123.8 384.0,113.8 384.5,107.5C385.0,101.2 384.8,91.2 385.0,85.0C385.2,78.8 385.6,74.2 385.8,70.0C386.1,65.8 386.3,62.8 386.5,60.0C386.7,57.2 386.9,54.7 387.2,53.0C387.4,51.3 387.6,49.3 388.0,50.0C388.4,50.7 389.1,54.2 389.5,57.0C389.9,59.8 390.2,63.7 390.5,67.0C390.8,70.3 391.2,74.0 391.5,77.0C391.8,80.0 392.3,81.2 392.5,85.0C392.7,88.8 392.5,91.2 392.9,100.0C393.3,108.8 394.4,130.5 395.0,137.5C395.6,144.5 395.7,144.5 396.2,142.0C396.7,139.5 397.5,132.0 398.0,122.5C398.5,113.0 398.9,93.8 399.2,85.0C399.5,76.2 399.6,74.5 399.8,70.0C400.0,65.5 400.2,61.3 400.5,58.0C400.8,54.7 401.2,51.9 401.5,50.0C401.8,48.1 402.1,47.4 402.5,46.8C402.9,46.2 403.4,45.7 403.8,46.2C404.2,46.7 404.6,48.2 405.0,50.0C405.4,51.8 405.6,54.5 406.0,57.0C406.4,59.5 407.0,62.3 407.5,65.0C408.0,67.7 408.4,70.5 409.0,73.0C409.6,75.5 410.4,78.0 411.0,80.0C411.6,82.0 412.2,81.7 412.5,85.0C412.8,88.3 412.7,90.8 413.0,100.0C413.3,109.2 413.7,128.0 414.2,140.5C414.7,153.0 415.7,164.7 416.0,175.0C416.1,185.3 416.0,191.7 416.1,202.5C416.3,213.3 417.0,227.1 417.2,240.0C417.4,252.9 417.3,268.3 417.5,280.0C417.7,291.7 417.9,302.3 418.2,310.0C418.4,317.7 418.6,326.0 419.0,326.0C419.4,326.0 420.1,317.7 420.5,310.0C420.9,302.3 420.9,292.5 421.2,280.0C421.5,267.5 422.0,249.2 422.3,235.0C422.6,220.8 422.6,206.7 422.8,195.0C423.0,183.3 423.4,172.1 423.5,165.0C423.6,157.9 423.5,152.5 423.6,152.5C423.9,152.5 424.5,156.7 425.0,165.0C425.5,173.3 426.0,190.0 426.5,202.5C427.0,215.0 427.7,229.6 428.0,240.0C428.3,250.4 428.1,255.8 428.3,265.0C428.5,274.2 428.9,288.2 429.2,295.0C429.5,301.8 429.8,306.8 430.2,305.5C430.6,304.2 431.3,294.2 431.8,287.5C432.3,280.8 432.7,272.5 433.2,265.0C433.7,257.5 434.4,246.7 434.8,242.5C435.2,238.3 435.1,245.4 435.5,240.0C435.9,234.6 436.4,218.8 437.0,210.0C437.6,201.2 438.5,192.8 439.2,187.5C439.9,182.2 440.6,177.2 441.2,178.5C441.8,179.8 442.4,187.2 443.0,195.0C443.6,202.8 444.1,213.3 444.5,225.0C444.9,236.7 444.9,253.3 445.2,265.0C445.4,276.7 445.7,288.3 446.0,295.0C446.3,301.7 446.6,299.6 446.8,305.0C447.0,310.4 447.0,321.7 447.2,327.5C447.4,333.3 447.8,337.5 448.0,340.0C448.2,342.5 448.0,341.7 448.2,342.5C448.4,343.3 449.1,344.0 449.5,345.0C449.9,346.0 450.2,347.7 450.5,348.5C450.8,349.3 451.2,348.5 451.5,350.0C451.8,351.5 451.8,355.5 452.0,357.5C452.2,359.5 452.8,359.8 453.0,362.0C453.2,364.2 453.2,368.0 453.5,371.0C453.8,374.0 454.1,377.3 454.5,380.0C454.9,382.7 455.4,387.0 456.0,387.0C456.6,387.0 457.4,382.7 458.0,380.0C458.6,377.3 459.1,372.8 459.5,371.0C459.9,369.2 460.0,369.2 460.3,369.5C460.6,369.8 461.1,370.9 461.5,373.0C461.9,375.1 462.5,378.8 463.0,382.0C463.5,385.2 463.8,388.5 464.5,392.0C465.2,395.5 466.4,402.5 467.2,403.0C467.9,403.5 468.4,398.3 469.0,395.0C469.6,391.7 470.6,385.5 471.0,383.0C471.4,380.5 471.2,382.3 471.5,380.0C471.8,377.7 472.2,372.2 472.5,369.0C472.8,365.8 473.1,363.0 473.5,361.0C473.9,359.0 474.6,357.8 475.0,357.0C475.4,356.2 475.6,356.3 476.2,356.5C476.8,356.7 477.7,357.6 478.5,358.0C479.3,358.4 480.2,358.8 481.0,358.8C481.8,358.8 482.8,359.0 483.5,358.0C484.2,357.0 484.6,355.3 485.0,353.0C485.4,350.7 485.7,348.2 486.0,344.0C486.3,339.8 486.5,332.8 486.8,327.5C487.1,322.2 487.5,315.4 487.7,312.5C487.9,309.6 487.9,311.2 488.0,310.0C488.1,308.8 488.1,312.5 488.3,305.0C488.5,297.5 488.9,276.7 489.2,265.0C489.5,253.3 489.9,245.4 490.2,235.0C490.4,224.6 490.4,212.9 490.7,202.5C491.0,192.1 491.6,182.1 491.8,172.5C492.1,162.9 492.0,154.6 492.2,145.0C492.4,135.4 492.9,122.5 493.2,115.0C493.5,107.5 493.7,104.6 494.0,100.0C494.3,95.4 494.4,93.8 494.8,87.5C495.2,81.2 495.7,68.2 496.2,62.0C496.7,55.8 497.2,52.9 497.8,50.0C498.4,47.1 499.1,44.3 499.7,44.8C500.3,45.3 500.9,48.4 501.5,53.0C502.1,57.6 502.5,65.5 503.0,72.5C503.5,79.5 504.2,90.4 504.5,95.0C504.6,99.6 504.5,96.2 504.6,100.0C504.9,103.8 505.2,117.2 506.0,118.0C506.8,118.8 508.6,103.8 509.3,104.5C510.1,105.2 510.1,114.5 510.5,122.5C510.9,130.5 511.2,143.8 511.7,152.5C512.1,161.2 512.9,167.9 513.2,175.0C513.5,182.1 513.3,186.7 513.5,195.0C513.7,203.3 514.0,212.5 514.2,225.0C514.5,237.5 514.6,266.0 515.0,270.2C515.4,274.4 516.0,255.0 516.5,250.0C517.0,245.0 517.5,245.4 518.0,240.0C518.5,234.6 518.8,224.0 519.2,217.5C519.6,211.0 519.9,199.8 520.2,201.0C520.5,202.2 520.8,219.3 521.0,225.0C521.2,230.7 521.1,228.3 521.3,235.0C521.5,241.7 521.9,255.0 522.2,265.0C522.5,275.0 523.0,288.3 523.2,295.0C523.3,301.7 523.2,299.6 523.3,305.0C523.4,310.4 523.8,320.0 524.0,327.5C524.2,335.0 524.5,343.8 524.8,350.0C525.0,356.2 525.2,358.8 525.5,365.0C525.8,371.2 526.1,382.8 526.5,387.0C526.9,391.2 527.4,394.2 527.7,390.5C528.0,386.8 528.2,374.2 528.5,365.0C528.8,355.8 529.0,343.8 529.2,335.0C529.5,326.2 529.9,316.7 530.0,312.5C530.1,308.3 530.0,316.7 530.1,310.0C530.2,303.3 530.6,285.0 530.8,272.5C531.0,260.0 531.2,246.7 531.5,235.0C531.8,223.3 532.2,212.2 532.7,202.5C533.2,192.8 533.7,177.0 534.2,177.0C534.8,177.0 535.5,194.0 536.0,202.5C536.5,211.0 537.1,222.5 537.5,228.0C537.9,233.5 538.1,236.0 538.5,235.5C538.9,235.0 539.3,231.8 539.8,225.0C540.2,218.2 540.7,204.2 541.2,195.0C541.7,185.8 542.5,176.6 542.8,169.5C542.9,162.4 542.8,159.1 542.9,152.5C543.1,145.9 543.7,136.8 544.2,130.0C544.7,123.2 545.4,117.0 545.8,112.0C546.2,107.0 546.6,103.6 546.8,100.0C547.0,96.4 546.9,94.6 547.2,90.5C547.5,86.4 548.3,79.5 548.8,75.5C549.3,71.5 549.7,68.4 550.2,66.5C550.7,64.6 551.2,63.2 551.8,64.2C552.4,65.2 553.4,68.9 554.0,72.5C554.6,76.1 555.0,81.4 555.5,86.0C556.0,90.6 556.6,97.2 557.0,100.0C557.4,102.8 557.5,97.5 557.8,102.5C558.1,107.5 558.5,120.4 558.8,130.0C559.1,139.6 559.5,154.2 559.7,160.0C559.9,165.8 559.7,161.7 560.0,165.0C560.3,168.3 560.9,174.8 561.5,180.0C562.1,185.2 563.2,193.2 563.8,196.5C564.4,199.8 564.6,200.6 565.2,199.8C565.8,199.1 566.6,196.6 567.2,192.0C567.8,187.4 568.5,179.1 569.0,172.5C569.5,165.9 570.0,159.1 570.5,152.5C571.0,145.9 571.4,137.9 572.0,133.0C572.6,128.1 573.5,122.5 574.2,123.2C575.0,124.0 575.9,131.4 576.5,137.5C577.1,143.6 577.6,155.4 578.0,160.0C578.4,164.6 578.4,160.4 578.8,165.0C579.2,169.6 579.7,180.0 580.2,187.5C580.7,195.0 581.3,204.9 581.8,210.0C582.3,215.1 582.6,219.4 583.0,218.2C583.4,216.9 583.9,208.9 584.3,202.5C584.7,196.1 585.2,189.6 585.5,180.0C585.8,170.4 585.9,155.8 586.2,145.0C586.5,134.2 586.9,122.8 587.3,115.0C587.7,107.2 588.0,97.2 588.5,98.5C589.0,99.8 589.5,113.5 590.0,122.5C590.5,131.5 591.2,145.4 591.5,152.5C591.8,159.6 591.5,159.1 591.8,165.0C592.1,170.9 592.7,186.5 593.3,188.2C593.9,189.9 594.8,177.6 595.2,175.0C595.6,172.4 595.5,175.5 595.7,172.5C595.9,169.5 596.1,160.3 596.3,157.0C596.5,153.7 596.6,154.5 596.8,152.5C597.0,150.5 597.3,146.5 597.5,145.0C597.7,143.5 598.0,143.9 598.2,143.5C598.4,143.1 598.3,141.3 598.7,142.8C599.1,144.3 599.9,149.6 600.5,152.5C601.1,155.4 601.7,160.5 602.3,160.0C602.9,159.5 603.6,152.5 604.2,149.5C604.8,146.5 605.4,143.5 605.8,142.0C606.2,140.5 606.4,140.5 606.8,140.5C607.2,140.5 607.5,139.2 608.0,142.0C608.5,144.8 609.2,153.2 609.5,157.0C609.6,160.8 609.5,161.2 609.6,165.0C609.8,168.8 610.3,173.8 610.7,180.0C611.1,186.2 611.5,195.0 611.8,202.5C612.1,210.0 612.3,219.6 612.5,225.0C612.7,230.4 612.6,229.6 612.8,235.0C613.0,240.4 613.4,250.0 613.7,257.5C614.0,265.0 614.4,274.5 614.8,280.0C615.1,285.5 615.4,291.8 615.8,290.5C616.2,289.2 616.5,279.2 617.0,272.5C617.5,265.8 618.1,255.4 618.5,250.0C618.9,244.6 618.9,244.2 619.2,240.0C619.5,235.8 619.9,229.1 620.3,225.0C620.7,220.9 621.0,215.2 621.5,215.2C622.0,215.2 622.8,221.7 623.3,225.0C623.8,228.3 624.0,231.3 624.5,235.0C625.0,238.7 625.4,243.8 626.0,247.0C626.6,250.2 627.3,253.0 628.2,254.5C629.1,256.0 630.3,255.2 631.2,256.0C632.1,256.8 632.9,256.8 633.5,259.0C634.1,261.2 634.5,265.0 635.0,269.5C635.5,274.0 636.0,280.5 636.5,286.0C637.0,291.5 637.7,299.3 638.0,302.5C638.1,305.7 638.0,303.6 638.1,305.0C638.5,306.4 639.5,310.0 640.2,311.0C640.9,312.0 641.8,310.0 642.5,311.0C643.2,312.0 643.7,314.2 644.3,317.0C644.9,319.8 645.6,324.2 646.2,327.5C646.8,330.8 647.3,334.6 647.8,336.5C648.3,338.4 648.6,339.4 649.2,339.2C649.8,338.9 650.7,335.8 651.5,335.0C652.3,334.2 652.9,333.9 653.8,334.2C654.7,334.4 655.8,335.6 656.8,336.5C657.8,337.4 658.9,339.1 659.8,339.8C660.7,340.5 661.1,340.9 662.0,340.7C662.9,340.5 664.0,339.6 665.0,338.8C666.0,338.0 667.1,336.5 668.0,335.8C668.9,335.1 669.3,334.5 670.2,334.7C671.1,334.9 672.3,336.4 673.2,336.8C674.1,337.2 674.7,337.8 675.5,337.2C676.3,336.6 677.0,334.9 677.8,333.5C678.5,332.1 679.1,329.9 680.0,329.0C680.9,328.1 682.0,327.9 683.0,327.9C684.0,327.9 685.1,328.3 686.0,329.0C686.9,329.7 687.6,330.2 688.2,332.0C688.8,333.8 689.2,336.5 689.8,339.5C690.4,342.5 691.4,347.4 692.0,350.0C692.6,352.6 693.0,354.2 693.5,355.2C694.0,356.2 694.4,356.6 695.0,356.0C695.6,355.4 696.5,354.0 697.2,351.5C698.0,349.0 698.7,344.0 699.5,341.0C700.3,338.0 701.2,335.1 701.8,333.5C702.4,331.9 702.6,331.6 703.2,331.7C703.8,331.8 704.7,332.1 705.5,334.2C706.3,336.2 707.1,340.4 707.8,344.0C708.5,347.6 709.1,353.7 709.5,356.0C709.9,358.3 709.7,356.2 710.0,358.0C710.3,359.8 710.9,364.7 711.5,367.0C712.1,369.3 712.8,370.7 713.5,372.0C714.2,373.3 715.2,374.4 716.0,375.0C716.8,375.6 717.7,375.7 718.5,375.8C719.3,375.9 720.2,376.0 721.0,375.8C721.8,375.6 722.8,375.1 723.5,374.5C724.2,373.9 724.8,373.2 725.5,372.0C726.2,370.8 726.8,368.8 727.5,367.0C728.2,365.2 728.8,363.0 729.5,361.5C730.2,360.0 730.8,358.8 731.5,358.0C732.2,357.2 732.9,356.4 733.5,356.5C734.1,356.6 734.5,357.2 735.0,358.5C735.5,359.8 736.0,361.8 736.5,364.0C737.0,366.2 737.5,369.5 738.0,372.0C738.5,374.5 738.7,376.9 739.5,379.0C740.3,381.1 741.6,383.6 743.0,384.5C744.4,385.4 746.6,384.2 748.0,384.5C749.4,384.8 750.4,385.3 751.5,386.0C752.6,386.7 753.6,387.7 754.5,388.5C755.4,389.3 756.2,391.2 757.0,391.0C757.8,390.8 758.7,388.1 759.5,387.0C760.3,385.9 761.1,384.3 761.8,384.2C762.5,384.1 763.0,385.2 763.5,386.5C764.0,387.8 764.5,390.1 765.0,392.0C765.5,393.9 765.9,396.2 766.5,398.0C767.1,399.8 767.8,401.8 768.5,403.0C769.2,404.2 770.2,404.8 771.0,405.0C771.8,405.2 772.6,404.6 773.5,404.0C774.4,403.4 775.4,402.3 776.5,401.5C777.6,400.7 778.8,399.3 780.0,399.0C781.2,398.7 782.8,399.8 784.0,399.5C785.2,399.2 786.1,398.1 787.0,397.5C787.9,396.9 788.8,395.9 789.3,395.8C789.8,395.7 789.5,396.0 790.0,397.0C790.5,398.0 791.3,400.2 792.0,401.7C792.7,403.1 793.2,404.6 794.0,405.7C794.8,406.8 795.7,407.5 796.7,408.0C797.7,408.5 799.0,408.2 800.0,408.7C801.0,409.1 801.7,410.0 802.7,410.7C803.7,411.4 804.9,412.3 806.0,413.0C807.1,413.7 808.2,414.1 809.3,414.7C810.3,415.2 811.5,415.5 812.3,416.3C813.1,417.1 813.6,418.7 814.3,419.7C815.0,420.7 815.6,421.7 816.3,422.3C817.0,422.9 817.9,423.2 818.7,423.3C819.5,423.4 820.4,422.9 821.3,422.7C822.2,422.5 823.2,422.4 824.0,422.3C824.8,422.2 825.5,421.9 826.3,422.2C827.1,422.5 827.8,423.5 828.7,424.0C829.6,424.5 831.2,425.1 831.7,425.3"/>
<path fill="#0033cc" stroke="none" d="M92.4,424.2h2.4v2.4h-2.4zM97.0,422.0h2.4v2.4h-2.4zM101.5,419.4h2.4v2.4h-2.4zM106.1,418.7h2.4v2.4h-2.4zM110.7,416.7h2.4v2.4h-2.4zM115.3,411.1h2.4v2.4h-2.4zM119.8,409.8h2.4v2.4h-2.4zM124.4,409.9h2.4v2.4h-2.4zM129.0,407.1h2.4v2.4h-2.4zM133.6,404.0h2.4v2.4h-2.4zM138.2,414.3h2.4v2.4h-2.4zM142.7,418.7h2.4v2.4h-2.4zM147.3,414.0h2.4v2.4h-2.4zM151.9,412.7h2.4v2.4h-2.4zM156.5,407.2h2.4v2.4h-2.4zM161.0,406.6h2.4v2.4h-2.4zM165.6,409.9h2.4v2.4h-2.4zM170.2,402.0h2.4v2.4h-2.4zM174.8,398.3h2.4v2.4h-2.4zM179.4,395.4h2.4v2.4h-2.4zM183.9,397.4h2.4v2.4h-2.4zM188.5,408.8h2.4v2.4h-2.4zM193.1,415.4h2.4v2.4h-2.4zM197.7,407.7h2.4v2.4h-2.4zM202.2,398.9h2.4v2.4h-2.4zM206.8,383.3h2.4v2.4h-2.4zM211.4,388.6h2.4v2.4h-2.4zM216.0,386.2h2.4v2.4h-2.4zM220.5,383.0h2.4v2.4h-2.4zM225.1,378.5h2.4v2.4h-2.4zM229.7,368.8h2.4v2.4h-2.4zM234.3,382.1h2.4v2.4h-2.4zM238.9,387.5h2.4v2.4h-2.4zM243.4,375.4h2.4v2.4h-2.4zM248.0,369.0h2.4v2.4h-2.4zM252.6,363.0h2.4v2.4h-2.4zM257.2,342.0h2.4v2.4h-2.4zM261.7,324.6h2.4v2.4h-2.4zM266.3,342.9h2.4v2.4h-2.4zM270.9,366.7h2.4v2.4h-2.4zM275.5,378.7h2.4v2.4h-2.4zM280.1,388.5h2.4v2.4h-2.4zM284.6,371.9h2.4v2.4h-2.4zM289.2,355.0h2.4v2.4h-2.4zM293.8,336.3h2.4v2.4h-2.4zM298.4,355.1h2.4v2.4h-2.4zM302.9,342.5h2.4v2.4h-2.4zM307.5,358.3h2.4v2.4h-2.4zM312.1,337.2h2.4v2.4h-2.4zM316.7,349.7h2.4v2.4h-2.4zM321.3,318.6h2.4v2.4h-2.4zM325.8,276.8h2.4v2.4h-2.4zM330.4,276.1h2.4v2.4h-2.4zM335.0,299.8h2.4v2.4h-2.4zM339.6,252.6h2.4v2.4h-2.4zM344.1,193.0h2.4v2.4h-2.4zM348.7,239.2h2.4v2.4h-2.4zM353.3,166.6h2.4v2.4h-2.4zM357.9,200.4h2.4v2.4h-2.4zM362.4,149.0h2.4v2.4h-2.4zM367.0,222.4h2.4v2.4h-2.4zM371.6,317.8h2.4v2.4h-2.4zM376.2,169.3h2.4v2.4h-2.4zM380.8,117.9h2.4v2.4h-2.4zM385.3,103.6h2.4v2.4h-2.4zM389.9,71.6h2.4v2.4h-2.4zM394.5,127.3h2.4v2.4h-2.4zM399.1,141.3h2.4v2.4h-2.4zM403.6,72.4h2.4v2.4h-2.4zM408.2,86.5h2.4v2.4h-2.4zM412.8,41.9h2.4v2.4h-2.4zM417.4,286.1h2.4v2.4h-2.4zM422.0,252.5h2.4v2.4h-2.4zM426.5,222.8h2.4v2.4h-2.4zM431.1,268.0h2.4v2.4h-2.4zM435.7,280.5h2.4v2.4h-2.4zM440.3,179.5h2.4v2.4h-2.4zM444.8,274.1h2.4v2.4h-2.4zM449.4,345.2h2.4v2.4h-2.4zM454.0,371.9h2.4v2.4h-2.4zM458.6,385.8h2.4v2.4h-2.4zM463.2,379.8h2.4v2.4h-2.4zM467.7,401.7h2.4v2.4h-2.4zM472.3,389.7h2.4v2.4h-2.4zM476.9,360.5h2.4v2.4h-2.4zM481.5,367.8h2.4v2.4h-2.4zM486.0,350.9h2.4v2.4h-2.4zM490.6,276.5h2.4v2.4h-2.4zM495.2,125.1h2.4v2.4h-2.4zM499.8,89.5h2.4v2.4h-2.4zM504.4,90.8h2.4v2.4h-2.4zM508.9,144.2h2.4v2.4h-2.4zM513.5,186.4h2.4v2.4h-2.4zM518.1,240.9h2.4v2.4h-2.4zM522.7,297.9h2.4v2.4h-2.4zM527.2,360.0h2.4v2.4h-2.4zM531.8,317.1h2.4v2.4h-2.4zM536.4,156.3h2.4v2.4h-2.4zM541.0,299.4h2.4v2.4h-2.4zM545.5,132.6h2.4v2.4h-2.4zM550.1,111.0h2.4v2.4h-2.4zM554.7,85.9h2.4v2.4h-2.4zM559.3,194.2h2.4v2.4h-2.4zM563.9,140.3h2.4v2.4h-2.4zM568.4,198.3h2.4v2.4h-2.4zM573.0,216.0h2.4v2.4h-2.4zM577.6,123.0h2.4v2.4h-2.4zM582.2,286.6h2.4v2.4h-2.4zM586.7,128.0h2.4v2.4h-2.4zM591.3,179.4h2.4v2.4h-2.4zM595.9,189.7h2.4v2.4h-2.4zM600.5,173.7h2.4v2.4h-2.4zM605.1,161.2h2.4v2.4h-2.4zM609.6,176.8h2.4v2.4h-2.4zM614.2,240.4h2.4v2.4h-2.4zM618.8,271.9h2.4v2.4h-2.4zM623.4,250.6h2.4v2.4h-2.4zM627.9,247.1h2.4v2.4h-2.4zM632.5,260.3h2.4v2.4h-2.4zM637.1,287.2h2.4v2.4h-2.4zM641.7,317.1h2.4v2.4h-2.4zM646.3,333.1h2.4v2.4h-2.4zM650.8,348.0h2.4v2.4h-2.4zM655.4,333.7h2.4v2.4h-2.4zM660.0,347.2h2.4v2.4h-2.4zM664.6,345.9h2.4v2.4h-2.4zM669.1,339.2h2.4v2.4h-2.4zM673.7,345.5h2.4v2.4h-2.4zM678.3,332.3h2.4v2.4h-2.4zM682.9,334.7h2.4v2.4h-2.4zM687.5,304.5h2.4v2.4h-2.4zM692.0,335.3h2.4v2.4h-2.4zM696.6,357.2h2.4v2.4h-2.4zM701.2,327.5h2.4v2.4h-2.4zM705.8,275.3h2.4v2.4h-2.4zM710.3,335.9h2.4v2.4h-2.4zM714.9,367.5h2.4v2.4h-2.4zM719.5,377.4h2.4v2.4h-2.4zM724.1,377.5h2.4v2.4h-2.4zM728.6,369.4h2.4v2.4h-2.4zM733.2,339.3h2.4v2.4h-2.4zM737.8,361.2h2.4v2.4h-2.4zM742.4,379.7h2.4v2.4h-2.4zM747.0,385.8h2.4v2.4h-2.4zM751.5,386.7h2.4v2.4h-2.4zM756.1,392.1h2.4v2.4h-2.4zM760.7,384.4h2.4v2.4h-2.4zM765.3,390.7h2.4v2.4h-2.4zM769.8,403.5h2.4v2.4h-2.4zM774.4,404.3h2.4v2.4h-2.4zM779.0,401.3h2.4v2.4h-2.4zM783.6,400.8h2.4v2.4h-2.4zM788.2,397.9h2.4v2.4h-2.4zM792.7,404.4h2.4v2.4h-2.4zM797.3,406.7h2.4v2.4h-2.4zM801.9,406.2h2.4v2.4h-2.4zM806.5,415.4h2.4v2.4h-2.4zM811.0,415.8h2.4v2.4h-2.4zM815.6,418.3h2.4v2.4h-2.4zM820.2,421.6h2.4v2.4h-2.4zM824.8,424.1h2.4v2.4h-2.4zM829.4,424.3h2.4v2.4h-2.4z"/>
<path fill="#cc00cc" stroke="none" d="M87.8,424.3h2.4v2.4h-2.4zM92.4,422.6h2.4v2.4h-2.4zM97.0,416.5h2.4v2.4h-2.4zM101.5,418.0h2.4v2.4h-2.4zM106.1,416.4h2.4v2.4h-2.4zM110.7,410.2h2.4v2.4h-2.4zM115.3,409.8h2.4v2.4h-2.4zM119.8,407.3h2.4v2.4h-2.4zM124.4,404.0h2.4v2.4h-2.4zM129.0,404.2h2.4v2.4h-2.4zM133.6,409.0h2.4v2.4h-2.4zM138.2,412.6h2.4v2.4h-2.4zM142.7,413.0h2.4v2.4h-2.4zM147.3,413.0h2.4v2.4h-2.4zM151.9,408.5h2.4v2.4h-2.4zM156.5,404.3h2.4v2.4h-2.4zM161.0,406.0h2.4v2.4h-2.4zM165.6,408.3h2.4v2.4h-2.4zM170.2,391.8h2.4v2.4h-2.4zM174.8,394.0h2.4v2.4h-2.4zM179.4,392.5h2.4v2.4h-2.4zM183.9,399.7h2.4v2.4h-2.4zM188.5,411.7h2.4v2.4h-2.4zM193.1,410.1h2.4v2.4h-2.4zM197.7,405.9h2.4v2.4h-2.4zM202.2,383.5h2.4v2.4h-2.4zM206.8,379.8h2.4v2.4h-2.4zM211.4,385.9h2.4v2.4h-2.4zM216.0,379.8h2.4v2.4h-2.4zM220.5,374.1h2.4v2.4h-2.4zM225.1,368.9h2.4v2.4h-2.4zM229.7,365.4h2.4v2.4h-2.4zM234.3,382.7h2.4v2.4h-2.4zM238.9,376.6h2.4v2.4h-2.4zM243.4,360.2h2.4v2.4h-2.4zM248.0,359.8h2.4v2.4h-2.4zM252.6,347.3h2.4v2.4h-2.4zM257.2,322.2h2.4v2.4h-2.4zM261.7,340.6h2.4v2.4h-2.4zM266.3,347.1h2.4v2.4h-2.4zM270.9,370.3h2.4v2.4h-2.4zM275.5,380.2h2.4v2.4h-2.4zM280.1,377.6h2.4v2.4h-2.4zM284.6,359.1h2.4v2.4h-2.4zM289.2,325.6h2.4v2.4h-2.4zM293.8,345.7h2.4v2.4h-2.4zM298.4,340.0h2.4v2.4h-2.4zM302.9,349.9h2.4v2.4h-2.4zM307.5,337.3h2.4v2.4h-2.4zM312.1,338.1h2.4v2.4h-2.4zM316.7,328.6h2.4v2.4h-2.4zM321.3,280.3h2.4v2.4h-2.4zM325.8,263.2h2.4v2.4h-2.4zM330.4,267.0h2.4v2.4h-2.4zM335.0,289.7h2.4v2.4h-2.4zM339.6,180.0h2.4v2.4h-2.4zM344.1,200.0h2.4v2.4h-2.4zM348.7,189.1h2.4v2.4h-2.4zM353.3,181.8h2.4v2.4h-2.4zM357.9,219.8h2.4v2.4h-2.4zM362.4,110.3h2.4v2.4h-2.4zM367.0,286.8h2.4v2.4h-2.4zM371.6,234.0h2.4v2.4h-2.4zM376.2,98.0h2.4v2.4h-2.4zM380.8,118.8h2.4v2.4h-2.4zM385.3,58.4h2.4v2.4h-2.4zM389.9,71.9h2.4v2.4h-2.4zM394.5,138.9h2.4v2.4h-2.4zM399.1,60.7h2.4v2.4h-2.4zM403.6,48.3h2.4v2.4h-2.4zM408.2,73.3h2.4v2.4h-2.4zM412.8,132.6h2.4v2.4h-2.4zM417.4,316.4h2.4v2.4h-2.4zM422.0,178.5h2.4v2.4h-2.4zM426.5,232.2h2.4v2.4h-2.4zM431.1,278.1h2.4v2.4h-2.4zM435.7,211.0h2.4v2.4h-2.4zM440.3,179.8h2.4v2.4h-2.4zM444.8,294.4h2.4v2.4h-2.4zM449.4,347.5h2.4v2.4h-2.4zM454.0,382.1h2.4v2.4h-2.4zM458.6,369.3h2.4v2.4h-2.4zM463.2,389.8h2.4v2.4h-2.4zM467.7,394.1h2.4v2.4h-2.4zM472.3,359.8h2.4v2.4h-2.4zM476.9,356.5h2.4v2.4h-2.4zM481.5,357.1h2.4v2.4h-2.4zM486.0,318.9h2.4v2.4h-2.4zM490.6,169.9h2.4v2.4h-2.4zM495.2,59.3h2.4v2.4h-2.4zM499.8,49.4h2.4v2.4h-2.4zM504.4,111.0h2.4v2.4h-2.4zM508.9,115.7h2.4v2.4h-2.4zM513.5,252.5h2.4v2.4h-2.4zM518.1,214.9h2.4v2.4h-2.4zM522.7,321.9h2.4v2.4h-2.4zM527.2,365.7h2.4v2.4h-2.4zM531.8,195.9h2.4v2.4h-2.4zM536.4,227.5h2.4v2.4h-2.4zM541.0,178.3h2.4v2.4h-2.4zM545.5,99.4h2.4v2.4h-2.4zM550.1,63.7h2.4v2.4h-2.4zM554.7,88.6h2.4v2.4h-2.4zM559.3,168.6h2.4v2.4h-2.4zM563.9,198.3h2.4v2.4h-2.4zM568.4,162.8h2.4v2.4h-2.4zM573.0,122.1h2.4v2.4h-2.4zM577.6,163.8h2.4v2.4h-2.4zM582.2,212.5h2.4v2.4h-2.4zM586.7,104.9h2.4v2.4h-2.4zM591.3,175.0h2.4v2.4h-2.4zM595.9,148.1h2.4v2.4h-2.4zM600.5,156.2h2.4v2.4h-2.4zM605.1,140.1h2.4v2.4h-2.4zM609.6,181.6h2.4v2.4h-2.4zM614.2,285.2h2.4v2.4h-2.4zM618.8,228.0h2.4v2.4h-2.4zM623.4,234.3h2.4v2.4h-2.4zM627.9,253.8h2.4v2.4h-2.4zM632.5,259.4h2.4v2.4h-2.4zM637.1,304.4h2.4v2.4h-2.4zM641.7,311.1h2.4v2.4h-2.4zM646.3,333.4h2.4v2.4h-2.4zM650.8,333.6h2.4v2.4h-2.4zM655.4,335.2h2.4v2.4h-2.4zM660.0,339.2h2.4v2.4h-2.4zM664.6,336.8h2.4v2.4h-2.4zM669.1,333.6h2.4v2.4h-2.4zM673.7,335.9h2.4v2.4h-2.4zM678.3,328.8h2.4v2.4h-2.4zM682.9,327.1h2.4v2.4h-2.4zM687.5,332.9h2.4v2.4h-2.4zM692.0,353.1h2.4v2.4h-2.4zM696.6,347.5h2.4v2.4h-2.4zM701.2,331.5h2.4v2.4h-2.4zM705.8,339.2h2.4v2.4h-2.4zM710.3,365.9h2.4v2.4h-2.4zM714.9,373.8h2.4v2.4h-2.4zM719.5,374.6h2.4v2.4h-2.4zM724.1,371.1h2.4v2.4h-2.4zM728.6,359.7h2.4v2.4h-2.4zM733.2,356.5h2.4v2.4h-2.4zM737.8,375.5h2.4v2.4h-2.4zM742.4,383.3h2.4v2.4h-2.4zM747.0,383.4h2.4v2.4h-2.4zM751.5,385.8h2.4v2.4h-2.4zM756.1,389.3h2.4v2.4h-2.4zM760.7,383.1h2.4v2.4h-2.4zM765.3,396.7h2.4v2.4h-2.4zM769.8,403.8h2.4v2.4h-2.4zM774.4,401.0h2.4v2.4h-2.4zM779.0,397.8h2.4v2.4h-2.4zM783.6,397.8h2.4v2.4h-2.4zM788.2,394.7h2.4v2.4h-2.4zM792.7,404.4h2.4v2.4h-2.4zM797.3,407.2h2.4v2.4h-2.4zM801.9,409.8h2.4v2.4h-2.4zM806.5,412.7h2.4v2.4h-2.4zM811.0,415.1h2.4v2.4h-2.4zM815.6,421.3h2.4v2.4h-2.4zM820.2,421.5h2.4v2.4h-2.4zM824.8,421.0h2.4v2.4h-2.4zM829.4,423.6h2.4v2.4h-2.4z"/>
</g>

<rect x="75.5" y="35.5" width="771" height="391" fill="none" stroke="#666666" stroke-width="1" shape-rendering="crispEdges"/>
<line class="ax" x1="71.5" y1="35" x2="71.5" y2="427"/>
<line class="ax" x1="850.5" y1="35" x2="850.5" y2="427"/>
<line class="ax" x1="75" y1="430.5" x2="847" y2="430.5"/>
<line class="ax" x1="69" y1="426.5" x2="71" y2="426.5"/>
<text class="tl" x="65" y="431" text-anchor="end">0</text>
<line class="ax" x1="69" y1="400.5" x2="71" y2="400.5"/>
<text class="tl" x="65" y="406" text-anchor="end">200</text>
<line class="ax" x1="69" y1="375.5" x2="71" y2="375.5"/>
<text class="tl" x="65" y="381" text-anchor="end">400</text>
<line class="ax" x1="69" y1="350.5" x2="71" y2="350.5"/>
<text class="tl" x="65" y="356" text-anchor="end">600</text>
<line class="ax" x1="69" y1="325.5" x2="71" y2="325.5"/>
<text class="tl" x="65" y="331" text-anchor="end">800</text>
<line class="ax" x1="69" y1="300.5" x2="71" y2="300.5"/>
<text class="tl" x="65" y="306" text-anchor="end">1,000</text>
<line class="ax" x1="69" y1="275.5" x2="71" y2="275.5"/>
<text class="tl" x="65" y="281" text-anchor="end">1,200</text>
<line class="ax" x1="69" y1="250.5" x2="71" y2="250.5"/>
<text class="tl" x="65" y="256" text-anchor="end">1,400</text>
<line class="ax" x1="69" y1="225.5" x2="71" y2="225.5"/>
<text class="tl" x="65" y="231" text-anchor="end">1,600</text>
<line class="ax" x1="69" y1="200.5" x2="71" y2="200.5"/>
<text class="tl" x="65" y="206" text-anchor="end">1,800</text>
<line class="ax" x1="69" y1="175.5" x2="71" y2="175.5"/>
<text class="tl" x="65" y="181" text-anchor="end">2,000</text>
<line class="ax" x1="69" y1="150.5" x2="71" y2="150.5"/>
<text class="tl" x="65" y="156" text-anchor="end">2,200</text>
<line class="ax" x1="69" y1="125.5" x2="71" y2="125.5"/>
<text class="tl" x="65" y="131" text-anchor="end">2,400</text>
<line class="ax" x1="69" y1="100.5" x2="71" y2="100.5"/>
<text class="tl" x="65" y="105" text-anchor="end">2,600</text>
<line class="ax" x1="69" y1="75.5" x2="71" y2="75.5"/>
<text class="tl" x="65" y="80" text-anchor="end">2,800</text>
<line class="ax" x1="69" y1="50.5" x2="71" y2="50.5"/>
<text class="tl" x="65" y="55" text-anchor="end">3,000</text>
<line class="ax" x1="851" y1="426.5" x2="853" y2="426.5"/>
<text class="tr" x="855.3" y="430" textLength="6.1" lengthAdjust="spacingAndGlyphs">0</text>
<line class="ax" x1="851" y1="389.5" x2="853" y2="389.5"/>
<text class="tr" x="855.3" y="393" textLength="6.1" lengthAdjust="spacingAndGlyphs">5</text>
<line class="ax" x1="851" y1="351.5" x2="853" y2="351.5"/>
<text class="tr" x="855.3" y="355" textLength="12.2" lengthAdjust="spacingAndGlyphs">10</text>
<line class="ax" x1="851" y1="313.5" x2="853" y2="313.5"/>
<text class="tr" x="855.3" y="318" textLength="12.2" lengthAdjust="spacingAndGlyphs">15</text>
<line class="ax" x1="851" y1="276.5" x2="853" y2="276.5"/>
<text class="tr" x="855.3" y="280" textLength="12.2" lengthAdjust="spacingAndGlyphs">20</text>
<line class="ax" x1="851" y1="238.5" x2="853" y2="238.5"/>
<text class="tr" x="855.3" y="242" textLength="12.2" lengthAdjust="spacingAndGlyphs">25</text>
<line class="ax" x1="851" y1="201.5" x2="853" y2="201.5"/>
<text class="tr" x="855.3" y="205" textLength="12.2" lengthAdjust="spacingAndGlyphs">30</text>
<line class="ax" x1="851" y1="163.5" x2="853" y2="163.5"/>
<text class="tr" x="855.3" y="167" textLength="12.2" lengthAdjust="spacingAndGlyphs">35</text>
<line class="ax" x1="851" y1="125.5" x2="853" y2="125.5"/>
<text class="tr" x="855.3" y="130" textLength="12.2" lengthAdjust="spacingAndGlyphs">40</text>
<line class="ax" x1="851" y1="88.5" x2="853" y2="88.5"/>
<text class="tr" x="855.3" y="92" textLength="12.2" lengthAdjust="spacingAndGlyphs">45</text>
<line class="ax" x1="851" y1="50.5" x2="853" y2="50.5"/>
<text class="tr" x="855.3" y="54" textLength="12.2" lengthAdjust="spacingAndGlyphs">50</text>
<line class="ax" x1="89.5" y1="431" x2="89.5" y2="433"/>
<text class="tl" x="89.5" y="446" text-anchor="middle">07:00</text>
<line class="ax" x1="144.5" y1="431" x2="144.5" y2="433"/>
<text class="tl" x="144.5" y="446" text-anchor="middle">08:00</text>
<line class="ax" x1="199.5" y1="431" x2="199.5" y2="433"/>
<text class="tl" x="199.5" y="446" text-anchor="middle">09:00</text>
<line class="ax" x1="254.5" y1="431" x2="254.5" y2="433"/>
<text class="tl" x="254.5" y="446" text-anchor="middle">10:00</text>
<line class="ax" x1="309.5" y1="431" x2="309.5" y2="433"/>
<text class="tl" x="309.5" y="446" text-anchor="middle">11:00</text>
<line class="ax" x1="364.5" y1="431" x2="364.5" y2="433"/>
<text class="tl" x="364.5" y="446" text-anchor="middle">12:00</text>
<line class="ax" x1="419.5" y1="431" x2="419.5" y2="433"/>
<text class="tl" x="419.5" y="446" text-anchor="middle">13:00</text>
<line class="ax" x1="474.5" y1="431" x2="474.5" y2="433"/>
<text class="tl" x="474.5" y="446" text-anchor="middle">14:00</text>
<line class="ax" x1="529.5" y1="431" x2="529.5" y2="433"/>
<text class="tl" x="529.5" y="446" text-anchor="middle">15:00</text>
<line class="ax" x1="584.5" y1="431" x2="584.5" y2="433"/>
<text class="tl" x="584.5" y="446" text-anchor="middle">16:00</text>
<line class="ax" x1="638.5" y1="431" x2="638.5" y2="433"/>
<text class="tl" x="638.5" y="446" text-anchor="middle">17:00</text>
<line class="ax" x1="693.5" y1="431" x2="693.5" y2="433"/>
<text class="tl" x="693.5" y="446" text-anchor="middle">18:00</text>
<line class="ax" x1="748.5" y1="431" x2="748.5" y2="433"/>
<text class="tl" x="748.5" y="446" text-anchor="middle">19:00</text>
<line class="ax" x1="803.5" y1="431" x2="803.5" y2="433"/>
<text class="tl" x="803.5" y="446" text-anchor="middle">20:00</text>
<text class="al" x="460.6" y="465" text-anchor="middle" textLength="29.6" lengthAdjust="spacingAndGlyphs">time</text>
<text class="al" transform="translate(25,231.4) rotate(-90)" text-anchor="middle" textLength="33.6" lengthAdjust="spacingAndGlyphs">Watt</text>
<text class="pc" transform="translate(876,230.4) rotate(90)" text-anchor="middle" textLength="9.8" lengthAdjust="spacingAndGlyphs">%</text>
<rect x="121.500" y="477.500" width="657" height="21" fill="#fff" stroke="#000" stroke-width="1" shape-rendering="crispEdges"/>
<line x1="124" y1="488" x2="140" y2="488" stroke="#cc00cc" stroke-width="2"/><rect x="130.800" y="486.800" width="2.400" height="2.400" fill="#c000c0"/>
<text class="lg" x="142" y="492.500" textLength="305" lengthAdjust="spacingAndGlyphs">SB3000TL-20-SN2100578613_21panels( 12.937 kWh )</text>
<line x1="452" y1="488" x2="468" y2="488" stroke="#0033cc" stroke-width="2"/><rect x="458.800" y="486.800" width="2.400" height="2.400" fill="#0030c0"/>
<text class="lg" x="470" y="492.500" textLength="305" lengthAdjust="spacingAndGlyphs">SB3000TL-21-SN2130032031_19panels( 12.164 kWh )</text>
</svg>
</body></html>
